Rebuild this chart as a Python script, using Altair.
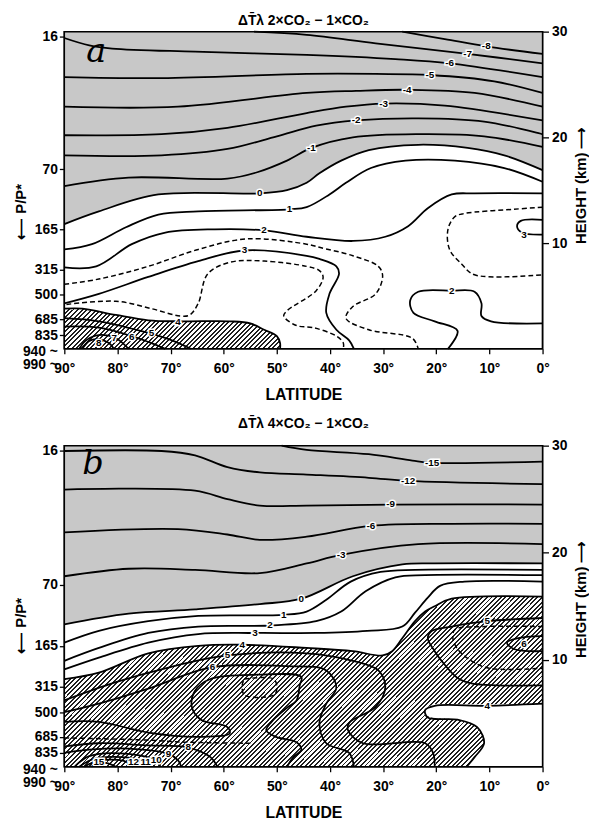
import altair as alt
import pandas as pd

FONT = "Liberation Sans"

# ---------------- axes -----------------
LAT_TICKS = [90, 80, 70, 60, 50, 40, 30, 20, 10, 0]
HEIGHT_TICKS = [10, 20, 30]
P_KM = [29.5, 17.0, 11.3, 7.5, 5.1, 2.8, 1.3, 0.0]
P_LABELS = ["16", "70", "165", "315", "500", "685", "835", ["940 ~", "990 ~"]]

TITLE_A = "ΔT\u0304λ  2×CO₂ − 1×CO₂"
TITLE_B = "ΔT\u0304λ  4×CO₂ − 1×CO₂"

# ---------------- panel a contours (lat deg, height km) -----------------
a_m8_lat = [26.4, 18.4, 10.6, 0];            a_m8_km = [30, 29.3, 28.6, 27.9]
a_m7_lat = [54.3, 44.4, 31.4, 14.1, 0];      a_m7_km = [30, 29.7, 28.9, 27.9, 27]
a_m6_lat = [90, 85.3, 81, 65.4, 44.4, 27.7, 17.5, 0]
a_m6_km = [29.4, 28.7, 28.4, 28.1, 27.8, 27.4, 27, 25.7]
a_m5_lat = [90, 71.7, 44.4, 31.4, 21.2, 9.1, 0]
a_m5_km = [25.7, 25.6, 26, 26, 25.9, 25.3, 24.2]
a_m4_lat = [90, 68.6, 44.4, 35.1, 25.5, 12.8, 0]
a_m4_km = [22.9, 22.9, 24.2, 24.4, 24.5, 24.2, 22.9]
a_m3_lat = [90, 71.7, 59.3, 44.4, 37, 29.9, 18.4, 0]
a_m3_km = [20.2, 20.3, 20.9, 22.3, 22.9, 23.2, 23, 21.6]
a_m2_lat = [90, 71.7, 59.3, 50, 42.6, 35.1, 23.4, 11, 0]
a_m2_km = [18.3, 18.3, 18.9, 20.1, 21.1, 21.6, 21.8, 21.5, 20.3]
a_m1_lat = [90, 77.9, 59.3, 53.7, 48.1, 43.5, 35.7, 23.4, 11, 0]
a_m1_km = [15.4, 16.2, 16.1, 16.7, 17.8, 19, 20, 20.3, 20.1, 19.1]
a_0_lat = [90, 83.5, 72.3, 53.2, 48.1, 44.4, 42, 37.9, 32.7, 23.4, 14.1, 7.2, 0]
a_0_km = [11.8, 13, 14.6, 14.7, 15, 15.7, 16.6, 17.8, 18.8, 19.3, 19, 18.3, 16.9]
a_1_lat = [90, 84.8, 78.4, 72.3, 64.8, 47.6, 44.4, 40.1, 37, 32.3, 25.8, 16.5, 7.2, 0]
a_1_km = [9.4, 9.9, 11.5, 12.7, 13, 13.2, 13.4, 14.6, 15.7, 17.1, 17.8, 17.8, 17.1, 15.8]
a_2_lat = [90, 84, 77.3, 71, 61.7, 52.4, 44.4, 35.7, 29.6, 25.3, 21.6, 17.1, 12.8, 0]
a_2_km = [7.7, 7.8, 9.9, 11, 11.3, 11.2, 10.6, 10.2, 10.6, 11.6, 13.3, 14.6, 14.7, 14.7]
a_25_lat = [90, 83.5, 74.2, 64.8, 55.6, 44.4, 42, 35.7, 30.9, 30.1, 31.4, 35.7, 37, 32.7, 24.5, 23.4]
a_25_km = [6.1, 6.6, 7.8, 9.4, 10.4, 9.9, 9.6, 8.8, 7.8, 6.9, 5.2, 4, 2.9, 1.8, 1, 0]
a_3_lat = [90, 83.5, 74.2, 64.8, 56.1, 44.4, 42, 38.8, 38.3, 40.1, 40.7, 38.8, 36.4, 35.5]
a_3_km = [4.3, 5.2, 6.8, 8.3, 9.3, 8.8, 8.5, 7.8, 7.1, 5.2, 3.4, 1.8, 0.8, 0]
a_35_lat = [89.6, 80.3, 73.6, 68.2, 66.4, 64.8, 63, 58.7, 52.4, 44.4, 42, 41.3, 42.6, 48.1, 48.7, 46.3, 43.1, 38.8, 37.5, 37.5]
a_35_km = [4.2, 4.5, 3.8, 3.1, 3.2, 4.3, 7.1, 8.2, 8.3, 7.8, 7.4, 6.8, 5.5, 3.6, 3.1, 2.2, 2, 1.2, 0.55, 0]
a_4_lat = [90, 86.6, 80.3, 74.2, 68, 58.7, 55, 52.4, 50, 49.4, 49.4]
a_4_km = [3.8, 3.8, 3.2, 2.7, 2.6, 2.6, 2.4, 1.8, 1.2, 0.55, 0]
a_5_lat = [90, 83.5, 74.2, 69.5, 66.2];      a_5_km = [2.9, 2.6, 1.5, 0.75, 0]
a_6_lat = [90, 83.5, 77.3, 74.2, 71];        a_6_km = [2.1, 2, 1.2, 0.65, 0]
a_7_lat = [87.2, 85.9, 83.5, 80.3, 77.9];    a_7_km = [0, 0.8, 1.3, 1, 0]
a_8_lat = [86.6, 85.3, 83.5, 81.6, 80.7];    a_8_km = [0, 0.75, 0.9, 0.55, 0]
a_25r_lat = [0, 5.4, 14.7, 16.5, 17.8, 17.5, 15.2, 12.8, 0]
a_25r_km = [13.4, 13.2, 12.8, 12.5, 11.3, 9.4, 8, 7, 7]
a_3r_lat = [0, 4.1, 4.8, 3.9, 0];            a_3r_km = [12.2, 12.1, 11.6, 11, 10.8]
a_2r_lat = [17.8, 16, 20.3, 24.3, 24.9, 23.4, 17.1, 12.8, 11.5, 11.5, 9.7, 0]
a_2r_km = [0, 1.7, 2.6, 3.4, 4.6, 5.4, 5.5, 5.4, 4.3, 3.1, 2.6, 2.4]

a_lab_txt = ["-8", "-7", "-6", "-5", "-4", "-3", "-2", "-1", "0", "1", "2", "3", "4", "5", "6", "7", "8", "3", "2"]
a_lab_lat = [10.6, 14.1, 17.5, 21.2, 25.5, 29.9, 35.1, 43.5, 53.2, 47.6, 52.4, 56.1, 68.6, 73.6, 77.3, 80.6, 83.5, 3.5, 17.1]
a_lab_km = [28.6, 27.9, 27.0, 25.9, 24.5, 23.2, 21.6, 19.0, 14.7, 13.2, 11.2, 9.3, 2.5, 1.5, 1.1, 1.0, 0.5, 10.8, 5.5]

# ---------------- panel b contours -----------------
b_m15_lat = [49.1, 44.4, 32.7, 24.5, 20.8, 0];   b_m15_km = [30, 29.6, 29.2, 28.6, 28.4, 28.5]
b_m12_lat = [90, 71.7, 65.4, 59.3, 53.2, 44.4, 32.7, 25.3, 0]
b_m12_km = [29.5, 29.5, 29.1, 28, 27.5, 27.3, 27, 26.7, 26.4]
b_m9_lat = [90, 65.4, 59.3, 53.2, 44.4, 28.6, 0]
b_m9_km = [25.9, 25.8, 25, 24.4, 24.4, 24.5, 24.5]
b_m6_lat = [90, 68.6, 59.3, 53.2, 44.4, 32.3, 17.1, 0]
b_m6_km = [21.9, 22.2, 21.7, 21.2, 21.5, 22.5, 22.7, 22.7]
b_m3_lat = [90, 77.9, 65.4, 53.2, 44.4, 37.9, 23.4, 0]
b_m3_km = [17.8, 18.5, 18.4, 18.1, 19, 19.8, 20.8, 20.8]
b_0_lat = [90, 77.9, 65.4, 53.2, 45.4, 35.7, 26.4, 20.3, 0]
b_0_km = [13.3, 14.3, 14.7, 15.2, 15.7, 17.8, 18.9, 19, 19]
b_1_lat = [90, 83.5, 74.2, 64.8, 48.7, 44.4, 40.7, 36.1, 30.5, 24, 0]
b_1_km = [11.6, 12.7, 13.6, 14.1, 14.2, 14.5, 15.6, 17.3, 18.2, 18.4, 18.4]
b_2_lat = [90, 83.5, 74.2, 64.8, 51.3, 42.6, 37.9, 33.3, 27.7, 22.1, 0]
b_2_km = [9.9, 11.1, 12.5, 13.1, 13.2, 13.6, 14.5, 16.4, 17.7, 17.9, 17.9]
b_3_lat = [90, 83.5, 74.2, 64.8, 54.1, 42.6, 33, 26.4, 24, 21.6, 19.3, 14.7, 0]
b_3_km = [9.1, 10.2, 11.6, 12.4, 12.5, 12.5, 12.7, 13.1, 14.4, 15.8, 16.9, 17.3, 17.3]
b_4_lat = [90, 83.5, 74.2, 64.8, 56.5, 44.4, 35.7, 30.1, 28.3, 26.4, 24, 22.1, 20.3, 17.1, 0]
b_4_km = [8.2, 8.8, 10.6, 11.3, 11.4, 11.1, 10.8, 10.4, 10.8, 12, 13.6, 14.5, 15, 15.7, 15.9]
b_4low_lat = [0, 10.4, 20.3, 22.1, 21.6, 16, 12.3, 11, 12.8, 14.3]
b_4low_km = [5.9, 5.7, 5.7, 5.3, 4.6, 4.4, 3.7, 2.2, 0.9, 0]
b_white_km = [5.85, 5.6, 5.3, 4.9, 4.6, 4.4, 4.0, 3.7, 3.0, 2.2, 1.5, 0.9, 0]
b_white_lat = [20.3, 21.5, 22.1, 22.0, 21.0, 16, 13.5, 12.3, 11.2, 11, 11.8, 12.8, 14.3]
b_5_lat = [90, 80.3, 71, 59.3, 44.4, 35.7, 30.9, 29.6, 31.4, 36.4, 36.6, 33.8, 22.1, 20.6, 20.3]
b_5_km = [6.2, 7.9, 9.2, 10.4, 10.6, 9.9, 9, 7.4, 5.6, 4.1, 3.4, 2.2, 2.2, 1.3, 0]
b_6_lat = [90, 83.5, 74.2, 62.1, 48.1, 40.7, 38.8, 40.7, 42, 40.7, 36.4, 35.5]
b_6_km = [5.1, 5.9, 7.3, 9.3, 9.4, 9, 7.4, 5.9, 4.1, 2.2, 1.3, 0]
b_7_lat = [90, 83.5, 74.2, 64.8, 58.9, 59.3, 64.3, 66, 65.4, 62.5, 53.7, 45.4, 45.7, 46.3, 48.1, 51, 52, 50.2, 46.3, 45.4, 46.9, 48.1]
b_7_km = [4.2, 4.2, 3.2, 2.8, 3.1, 3.7, 4.4, 5.6, 7.1, 8.2, 8.6, 8.4, 7.6, 6.2, 5.5, 4.2, 3.4, 2.8, 2.3, 1.6, 0.9, 0]
b_box_lat = [56.1, 50.6, 50, 50.6, 56.1, 56.5, 56.1]
b_box_km = [8.2, 8.2, 7.3, 6.7, 6.7, 7.7, 8.2]
b_75_lat = [90, 74.7, 67.3, 55];                b_75_km = [2.7, 2.5, 2.3, 2.2]
b_8_lat = [90, 83.5, 74.2, 66.7, 62.5, 61.2];   b_8_km = [1.9, 2.2, 2.0, 1.8, 0.9, 0]
b_9_lat = [90, 85.3, 77.9, 70.4, 68.6, 68];     b_9_km = [1.3, 1.6, 1.7, 1.2, 0.6, 0]
b_10_lat = [88.1, 85.3, 77.9, 72.7, 71.9];      b_10_km = [0, 1.0, 1.2, 0.55, 0]
b_11_lat = [87.2, 84.4, 77.9, 74.7, 74.2];      b_11_km = [0, 0.75, 0.85, 0.4, 0]
b_12_lat = [86.2, 83.8, 78.8, 77];              b_12_km = [0, 0.55, 0.55, 0]
b_15_lat = [84.9, 83.5, 81.6, 80.3];            b_15_km = [0, 0.4, 0.3, 0]
b_5r_lat = [0, 10.4, 17.1, 20.8, 21.6, 20.3, 19, 16, 13.4, 0]
b_5r_km = [13.9, 13.6, 13.1, 12.7, 12, 10.8, 9.9, 8.3, 7.8, 7.6]
b_55r_lat = [0, 11, 16.5, 16.9, 16, 13.4, 10, 0]
b_55r_km = [13.1, 13.1, 12.8, 12.1, 11, 9.9, 9.2, 9.2]
b_6r_lat = [0, 4.8, 6.7, 5.4, 0];               b_6r_km = [12.2, 12, 11.6, 11, 10.8]

b_lab_txt = ["-15", "-12", "-9", "-6", "-3", "0", "1", "2", "3", "4", "5", "6", "5", "6", "4", "8", "9", "10", "11", "12", "15"]
b_lab_lat = [20.8, 25.3, 28.6, 32.3, 37.9, 45.4, 48.7, 51.3, 54.1, 56.5, 59.3, 62.1, 10.4, 3.5, 10.4, 66.7, 70.4, 72.7, 74.7, 77, 83.5]
b_lab_km = [28.4, 26.7, 24.5, 22.5, 19.8, 15.7, 14.2, 13.2, 12.5, 11.4, 10.4, 9.3, 13.6, 11.5, 5.7, 1.8, 1.2, 0.6, 0.4, 0.4, 0.4]

A_SOLID = [(a_m8_lat, a_m8_km), (a_m7_lat, a_m7_km), (a_m6_lat, a_m6_km), (a_m5_lat, a_m5_km),
           (a_m4_lat, a_m4_km), (a_m3_lat, a_m3_km), (a_m2_lat, a_m2_km), (a_m1_lat, a_m1_km),
           (a_0_lat, a_0_km), (a_1_lat, a_1_km), (a_2_lat, a_2_km), (a_3_lat, a_3_km),
           (a_4_lat, a_4_km), (a_5_lat, a_5_km), (a_6_lat, a_6_km), (a_7_lat, a_7_km),
           (a_8_lat, a_8_km), (a_3r_lat, a_3r_km), (a_2r_lat, a_2r_km)]
A_DASHED = [(a_25_lat, a_25_km), (a_35_lat, a_35_km), (a_25r_lat, a_25r_km)]
B_SOLID = [(b_m15_lat, b_m15_km), (b_m12_lat, b_m12_km), (b_m9_lat, b_m9_km), (b_m6_lat, b_m6_km),
           (b_m3_lat, b_m3_km), (b_0_lat, b_0_km), (b_1_lat, b_1_km), (b_2_lat, b_2_km),
           (b_3_lat, b_3_km), (b_4_lat, b_4_km), (b_4low_lat, b_4low_km), (b_5_lat, b_5_km),
           (b_6_lat, b_6_km), (b_7_lat, b_7_km), (b_8_lat, b_8_km), (b_9_lat, b_9_km),
           (b_10_lat, b_10_km), (b_11_lat, b_11_km), (b_12_lat, b_12_km), (b_15_lat, b_15_km),
           (b_5r_lat, b_5r_km), (b_6r_lat, b_6r_km)]
B_DASHED = [(b_box_lat, b_box_km), (b_75_lat, b_75_km), (b_55r_lat, b_55r_km)]


def lines_df(contours):
    rows = []
    for cid, (lats, kms) in enumerate(contours):
        for i, (la, k) in enumerate(zip(lats, kms)):
            rows.append({"cid": cid, "seq": i, "lat": la, "km": k})
    return pd.DataFrame(rows)


def hatch(w_px, h_px, spacing=3.3, ink=0.42, color="#202020"):
    r = h_px / w_px
    s = (1 + r) / (1 + r * r)
    n = int(round((w_px + h_px) / (spacing * 2 ** 0.5)))
    stops = []
    for i in range(n):
        a, b, c = i / n, (i + ink) / n, (i + 1) / n
        stops += [alt.GradientStop(color=color, offset=a), alt.GradientStop(color=color, offset=b),
                  alt.GradientStop(color="white", offset=b), alt.GradientStop(color="white", offset=c)]
    return alt.Gradient(gradient="linear", stops=stops, x1=0, y1=0, x2=s, y2=s * r)


XS = alt.Scale(domain=[0, 90], reverse=True, nice=False, zero=False)
YS = alt.Scale(domain=[0, 30], nice=False, zero=False)

label_expr = "''"
for k, lab in reversed(list(zip(P_KM, P_LABELS))):
    lab_s = "[" + ",".join(f"'{t}'" for t in lab) + "]" if isinstance(lab, list) else f"'{lab}'"
    label_expr = f"datum.value == {k} ? {lab_s} : ({label_expr})"

X_AXIS = alt.Axis(values=LAT_TICKS, labelExpr="datum.value + '°'", title="LATITUDE",
                  titleFontSize=16, labelFontSize=14, tickSize=5, labelPadding=8, titlePadding=11,
                  labelFlush=False, labelOverlap=False)
LEFT_AXIS = alt.Axis(orient="left", values=P_KM, labelExpr=label_expr, title="⟵ P/P*",
                     labelFontSize=14, tickSize=5, labelPadding=2, labelOverlap=False, labelFlush=False,
                     labelLineHeight=13,
                     labelOffset={"condition": {"test": "datum.value == 0", "value": 3}, "value": 0},
                     tickColor={"condition": {"test": "datum.value == 0", "value": "transparent"}, "value": "black"},
                     titleFontSize=15, titleAngle=270, titleX=-36, titleY=182)
RIGHT_AXIS = alt.Axis(orient="right", values=HEIGHT_TICKS, format="d", title="HEIGHT (km) ⟶",
                      labelFontSize=14, tickSize=6, labelPadding=3, labelOverlap=False, labelFlush=False,
                      titleFontSize=15, titleAngle=270, titleX=46, titleY=155)


def panel(title, zero_lat, zero_km, hatch_lat, hatch_km, hatch_fill, solid, dashed,
          lab_txt, lab_lat, lab_km, letter, letter_lat, letter_km, height, title_offset, white=None):
    stip = pd.DataFrame({"lat": zero_lat, "km": zero_km, "top": 30})
    hat = pd.DataFrame({"lat": hatch_lat, "km": hatch_km, "bot": 0})
    layers = [
        alt.Chart(stip).mark_area(color="#c8c8c8", interpolate="catmull-rom").encode(
            x=alt.X("lat:Q", scale=XS, axis=X_AXIS), y=alt.Y("km:Q", scale=YS, axis=LEFT_AXIS),
            y2="top:Q"),
        alt.Chart(hat).mark_area(color=hatch_fill, interpolate="catmull-rom").encode(
            x=alt.X("lat:Q", scale=XS, axis=None), y=alt.Y("km:Q", scale=YS, axis=RIGHT_AXIS),
            y2="bot:Q"),
    ]
    if white is not None:
        wdf = pd.DataFrame({"lat": white[0], "km": white[1], "edge": 0})
        layers.append(alt.Chart(wdf).mark_area(color="white", orient="horizontal",
                                               interpolate="catmull-rom").encode(
            x=alt.X("lat:Q", scale=XS, axis=None), x2="edge:Q",
            y=alt.Y("km:Q", scale=YS, axis=None)))
    layers.append(alt.Chart(lines_df(solid)).mark_line(
        color="black", strokeWidth=1.8, interpolate="catmull-rom").encode(
        x=alt.X("lat:Q", scale=XS, axis=None), y=alt.Y("km:Q", scale=YS, axis=None),
        detail="cid:N", order="seq:Q"))
    layers.append(alt.Chart(lines_df(dashed)).mark_line(
        color="black", strokeWidth=1.5, strokeDash=[5, 3], interpolate="catmull-rom").encode(
        x=alt.X("lat:Q", scale=XS, axis=None), y=alt.Y("km:Q", scale=YS, axis=None),
        detail="cid:N", order="seq:Q"))
    labs = pd.DataFrame({"t": lab_txt, "lat": lab_lat, "km": lab_km})
    # white halo under the contour labels (line break effect), then the label itself
    layers.append(alt.Chart(labs).mark_text(font=FONT, fontSize=10, fontWeight="bold",
                                            color="white", stroke="white", strokeWidth=3).encode(
        x=alt.X("lat:Q", scale=XS, axis=None), y=alt.Y("km:Q", scale=YS, axis=None), text="t:N"))
    layers.append(alt.Chart(labs).mark_text(font=FONT, fontSize=10, fontWeight="bold",
                                            color="black").encode(
        x=alt.X("lat:Q", scale=XS, axis=None), y=alt.Y("km:Q", scale=YS, axis=None), text="t:N"))
    let = pd.DataFrame({"t": [letter], "lat": [letter_lat], "km": [letter_km]})
    layers.append(alt.Chart(let).mark_text(font="DejaVu Serif", fontSize=34, fontStyle="italic",
                                           color="black").encode(
        x=alt.X("lat:Q", scale=XS, axis=None), y=alt.Y("km:Q", scale=YS, axis=None), text="t:N"))
    # frame drawn on top of the fills
    layers.append(alt.Chart(pd.DataFrame({"k": [0]})).mark_rect(
        filled=False, stroke="black", strokeWidth=1.5).encode(
        x=alt.XDatum(90, scale=XS, axis=None), x2=alt.X2Datum(0),
        y=alt.YDatum(0, scale=YS, axis=None), y2=alt.Y2Datum(30)))
    return alt.layer(*layers).resolve_axis(x="independent", y="independent").properties(
        width=484, height=height,
        title=alt.TitleParams(title, fontSize=14, font=FONT, fontWeight="bold", offset=title_offset,
                              anchor="middle", frame="group"))


chart_a = panel(TITLE_A, a_0_lat, a_0_km, a_4_lat, a_4_km, hatch(218, 41), A_SOLID, A_DASHED,
                a_lab_txt, a_lab_lat, a_lab_km, "a", 84, 28.1, 321, -3)
chart_b = panel(TITLE_B, b_0_lat, b_0_km, b_4_lat, b_4_km, hatch(484, 172), B_SOLID, B_DASHED,
                b_lab_txt, b_lab_lat, b_lab_km, "b", 84.6, 28.3, 325, 8,
                white=(b_white_lat, b_white_km))

chart = alt.vconcat(chart_a, chart_b, spacing=13).properties(
    padding={"left": 5, "top": 0, "right": 0, "bottom": 0}
).configure_view(stroke="black", strokeWidth=1.5).configure_axis(
    labelFont=FONT, titleFont=FONT, labelFontWeight="bold", titleFontWeight="bold",
    labelColor="black", titleColor="black", tickColor="black", tickWidth=1.3,
    domain=False, grid=False)

chart.save("out.html", embed_options={"renderer": "svg", "actions": False})
